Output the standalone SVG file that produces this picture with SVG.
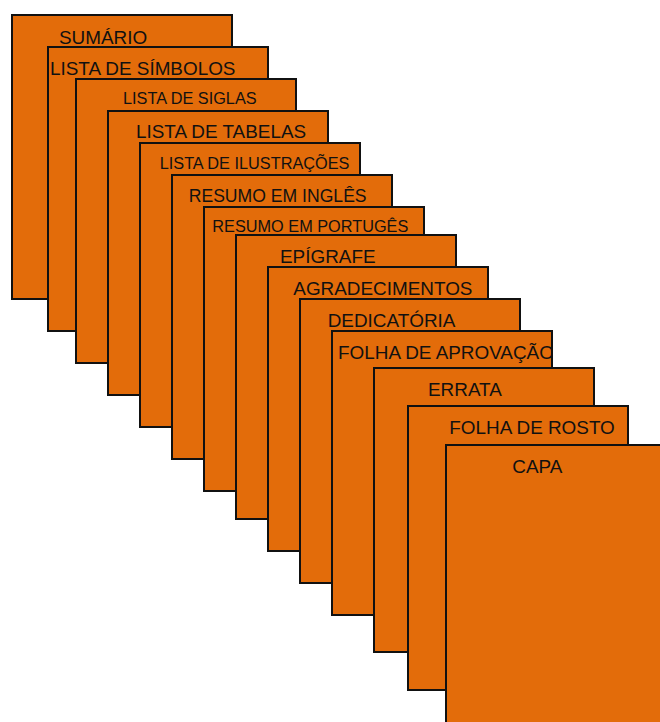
<svg xmlns="http://www.w3.org/2000/svg" width="660" height="722" viewBox="0 0 660 722">
<style>
.pg{fill:#E36C0A;stroke:#111;stroke-width:2}
.t{font-family:"Liberation Sans",Arial,sans-serif;font-size:18.9px;fill:#111}
.s{font-size:16.3px}
.m{font-size:17.6px}
</style>
<defs>
<clipPath id="c11"><rect x="333" y="332" width="218" height="282"/></clipPath>
</defs>
<rect width="660" height="722" fill="#fff"/>
<g id="sumario"><rect class="pg" x="12" y="15" width="220" height="284"/><text class="t" x="59" y="44">SUMÁRIO</text></g>
<g id="simbolos"><rect class="pg" x="48" y="47" width="220" height="284"/><text class="t" x="50" y="75.3">LISTA DE SÍMBOLOS</text></g>
<g id="siglas"><rect class="pg" x="76" y="79" width="220" height="284"/><text class="t s" x="123" y="103.7">LISTA DE SIGLAS</text></g>
<g id="tabelas"><rect class="pg" x="108" y="111" width="220" height="284"/><text class="t" x="136" y="138.3">LISTA DE TABELAS</text></g>
<g id="ilustracoes"><rect class="pg" x="140" y="143" width="220" height="284"/><text class="t s" x="159.7" y="169">LISTA DE ILUSTRAÇÕES</text></g>
<g id="resumo-ingles"><rect class="pg" x="172" y="175" width="220" height="284"/><text class="t m" x="188.7" y="201.7">RESUMO EM INGLÊS</text></g>
<g id="resumo-portugues"><rect class="pg" x="204" y="207" width="220" height="284"/><text class="t s" x="212.3" y="232">RESUMO EM PORTUGÊS</text></g>
<g id="epigrafe"><rect class="pg" x="236" y="235" width="220" height="284"/><text class="t" x="280" y="263.3">EPÍGRAFE</text></g>
<g id="agradecimentos"><rect class="pg" x="268" y="267" width="220" height="284"/><text class="t" x="293.3" y="295">AGRADECIMENTOS</text></g>
<g id="dedicatoria"><rect class="pg" x="300" y="299" width="220" height="284"/><text class="t" x="327.7" y="327.3">DEDICATÓRIA</text></g>
<g id="aprovacao"><rect class="pg" x="332" y="331" width="220" height="284"/><text class="t" x="338" y="359.3" clip-path="url(#c11)">FOLHA DE APROVAÇÃO</text></g>
<g id="errata"><rect class="pg" x="374" y="368" width="220" height="284"/><text class="t" x="428" y="396">ERRATA</text></g>
<g id="rosto"><rect class="pg" x="408" y="406" width="220" height="284"/><text class="t" x="449.3" y="434.3">FOLHA DE ROSTO</text></g>
<g id="capa"><rect class="pg" x="446" y="445" width="220" height="284"/><text class="t" x="512.3" y="473.3">CAPA</text></g>
<g id="connectors"/>
</svg>
